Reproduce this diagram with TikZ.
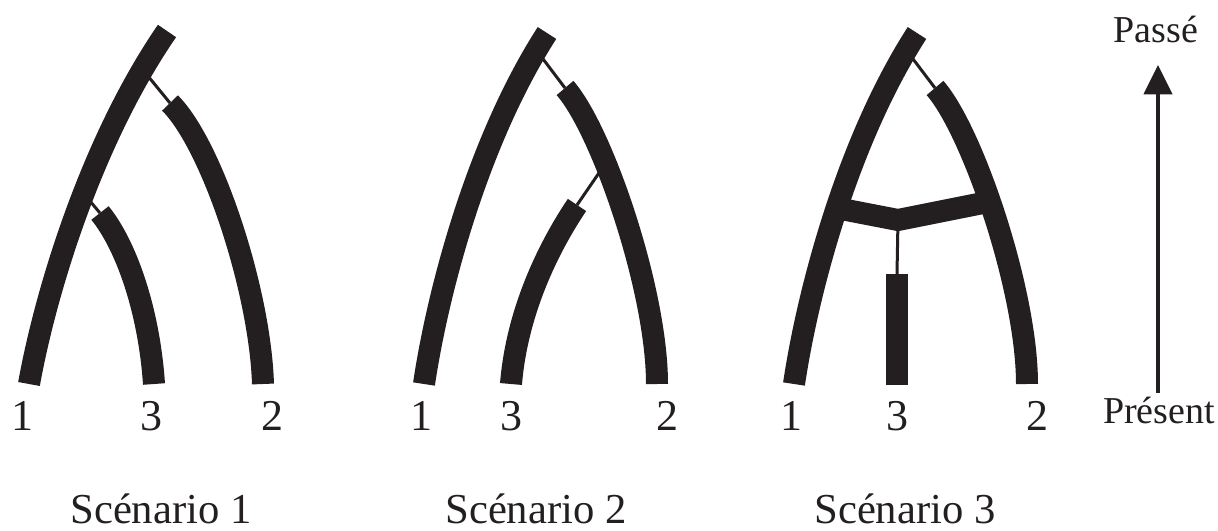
\documentclass[tikz,border=0pt]{standalone}
\usepackage{fontspec}
\setmainfont{Liberation Serif}
\usetikzlibrary{arrows.meta}
\definecolor{ink}{HTML}{231F20}
\begin{document}
\begin{tikzpicture}[x=0.75pt,y=-0.75pt,
  branch/.style={draw=ink,line width=16.5pt,line cap=butt},
  link/.style={draw=ink,line width=2.25pt},
  digit/.style={anchor=base,inner sep=0pt,text=ink,font=\fontsize{33}{36}\selectfont},
  caption/.style={anchor=base,inner sep=0pt,text=ink,font=\fontsize{32}{36}\selectfont},
  timelbl/.style={anchor=base,inner sep=0pt,text=ink,font=\fontsize{28.5}{32}\selectfont}]
\useasboundingbox (0,0) rectangle (1218,531);

% ---------- Scenario 1 ----------
\coordinate (a1b) at (29,384);   \coordinate (a1t) at (167,31);
\coordinate (a2t) at (170,103);  \coordinate (a2b) at (263,384);
\coordinate (a3t) at (100,213);  \coordinate (a3b) at (154,384);
\coordinate (a1l) at (143,70);   \coordinate (a1m) at (84,194);
\draw[link] (a1l) -- (a2t);
\draw[link] (a1m) -- (a3t);
\draw[branch] (a1b) .. controls (46,290) and (92,140) .. (a1t);
\draw[branch] (a2t) .. controls (212,145) and (260,290) .. (a2b);
\draw[branch] (a3t) .. controls (126,245) and (149,310) .. (a3b);

% ---------- Scenario 2 ----------
\coordinate (b1b) at (424,384);  \coordinate (b1t) at (547,33);
\coordinate (b2t) at (565,88);   \coordinate (b2b) at (657,384);
\coordinate (b3t) at (577,205);  \coordinate (b3b) at (511,384);
\coordinate (b1l) at (540,55);   \coordinate (b2l) at (601,170);
\draw[link] (b1l) -- (b2t);
\draw[link] (b2l) -- (b3t);
\draw[branch] (b1b) .. controls (438,290) and (478,140) .. (b1t);
\draw[branch] (b2t) .. controls (602,130) and (657,290) .. (b2b);
\draw[branch] (b3b) .. controls (517,310) and (550,245) .. (b3t);

% ---------- Scenario 3 ----------
\coordinate (c1b) at (794,384);  \coordinate (c1t) at (917,33);
\coordinate (c2t) at (935,88);   \coordinate (c2b) at (1027,384);
\coordinate (c1l) at (910,55);
\coordinate (cbl) at (836,208);  \coordinate (cbm) at (898,220);  \coordinate (cbr) at (983,203);
\coordinate (c3t) at (897,274);  \coordinate (c3b) at (897,385);
\draw[link] (c1l) -- (c2t);
\draw[link] (cbm) -- (c3t);
\draw[branch] (c1b) .. controls (808,290) and (848,140) .. (c1t);
\draw[branch] (c2t) .. controls (972,130) and (1027,290) .. (c2b);
\draw[branch,line join=miter] (cbl) -- (cbm) -- (cbr);
\draw[branch] (c3t) -- (c3b);

% ---------- labels ----------
\node[digit] (n11) at (23,430) {1};
\node[digit] (n13) at (151,430) {3};
\node[digit] (n12) at (272,430) {2};
\node[digit] (n21) at (421,430) {1};
\node[digit] (n23) at (511,430) {3};
\node[digit] (n22) at (667,430) {2};
\node[digit] (n31) at (791,430) {1};
\node[digit] (n33) at (897,430) {3};
\node[digit] (n32) at (1037,430) {2};

\node[caption] (s1) at (161,523) {Scénario 1};
\node[caption] (s2) at (536,523) {Scénario 2};
\node[caption] (s3) at (905,523) {Scénario 3};

% ---------- time arrow ----------
\node[timelbl] (past) at (1156,43) {Passé};
\node[timelbl] (pres) at (1159,423) {Présent};
\coordinate (arrB) at (1158,393);
\coordinate (arrT) at (1158,65);
\draw[draw=ink,line width=3pt,-{Triangle[length=22pt,width=21pt]}] (arrB) -- (arrT);
\end{tikzpicture}
\end{document}
